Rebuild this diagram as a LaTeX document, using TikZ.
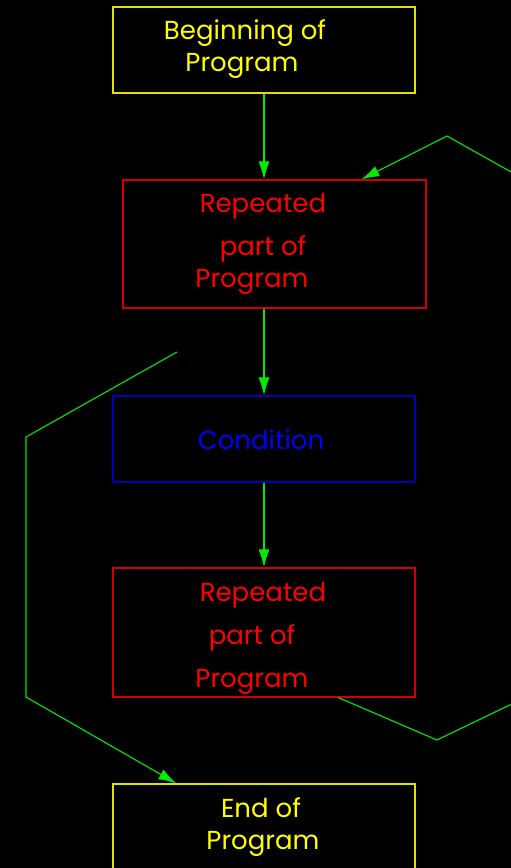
\documentclass[tikz,border=0pt]{standalone}
\usepackage{fontspec}
\setmainfont{Poppins}
\usetikzlibrary{arrows.meta,calc}

\definecolor{boxyellow}{RGB}{225,225,0}
\definecolor{txtyellow}{RGB}{255,255,0}
\definecolor{boxred}{RGB}{210,0,0}
\definecolor{txtred}{RGB}{255,0,0}
\definecolor{boxblue}{RGB}{0,0,180}
\definecolor{txtblue}{RGB}{0,0,255}
\definecolor{flowgreen}{RGB}{0,235,0}

\begin{document}
\begin{tikzpicture}[x=1pt,y=-1pt]
\tikzset{
  flowbox/.style={rectangle,draw,line width=1.2pt,inner sep=0pt},
  flowtext/.style={anchor=base,inner sep=0pt,font=\fontsize{26}{28}\selectfont},
  flowline/.style={draw=flowgreen,line width=1.1pt},
  flowarrow/.style={flowline,-{Latex[length=18pt,width=11pt]}}
}
\useasboundingbox (0,0) rectangle (511,868);
\clip (0,0) rectangle (511,868);
\fill[black] (0,0) rectangle (511,868);
% boxes
\node[flowbox,draw=boxyellow,minimum width=302pt,minimum height=86pt] (start) at (264,50) {};
\node[flowbox,draw=boxred,minimum width=303pt,minimum height=128pt] (rep1) at (274.5,244) {};
\node[flowbox,draw=boxblue,minimum width=302pt,minimum height=86pt] (cond) at (264,439) {};
\node[flowbox,draw=boxred,minimum width=302pt,minimum height=129pt] (rep2) at (264,632.5) {};
\node[flowbox,draw=boxyellow,minimum width=302pt,minimum height=86pt] (stop) at (264,827) {};
% texts
\node[flowtext,text=txtyellow] (start_a) at (245,39) {Beginning of};
\node[flowtext,text=txtyellow] (start_b) at (242,71) {Program};
\node[flowtext,text=txtred] (rep1_a) at (263,212) {Repeated};
\node[flowtext,text=txtred] (rep1_b) at (263,255) {part of};
\node[flowtext,text=txtred] (rep1_c) at (252,287) {Program};
\node[flowtext,text=txtblue] (cond_a) at (261,449) {Condition};
\node[flowtext,text=txtred] (rep2_a) at (263,601) {Repeated};
\node[flowtext,text=txtred] (rep2_b) at (252,644) {part of};
\node[flowtext,text=txtred] (rep2_c) at (252,687) {Program};
\node[flowtext,text=txtyellow] (stop_a) at (261,817) {End of};
\node[flowtext,text=txtyellow] (stop_b) at (263,849) {Program};
% connectors
\coordinate (loopout) at ($(rep2.south west)+(226,0)$);
\coordinate (loopin) at ($(rep1.north west)+(239,0)$);
\coordinate (exitin) at ($(stop.north west)+(64,0)$);
\coordinate (exitfree) at (177,352);
\draw[flowarrow] (start.south) -- (start.south |- rep1.north);
\draw[flowarrow] (start.south |- rep1.south) -- (cond.north);
\draw[flowarrow] (cond.south) -- (rep2.north);
\draw[flowarrow] (loopout) -- (437,740) -- (545,688) -- (545,191) -- (447,136) -- (loopin);
\draw[flowarrow] (exitfree) -- (26,437) -- (26,697) -- (exitin);
\end{tikzpicture}
\end{document}
